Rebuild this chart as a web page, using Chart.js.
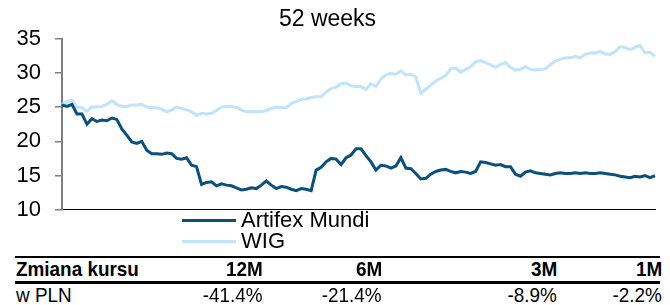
<!DOCTYPE html>
<html>
<head>
<meta charset="utf-8">
<script src="https://cdn.jsdelivr.net/npm/chart.js@4/dist/chart.umd.min.js"></script>
<style>
  html, body { margin: 0; padding: 0; background: #fff; }
  body { width: 670px; height: 305px; position: relative; overflow: hidden; font-family: "Liberation Sans", Arial, sans-serif; color: #000; }
  #wrap { position: absolute; left: 0; top: 0; width: 670px; height: 237px; }
  .leg { position: absolute; left: 182px; height: 22px; font-size: 22px; line-height: 22px; }
  .leg .sw { position: absolute; left: 0; top: 10px; width: 54px; height: 3px; }
  .leg .tx { position: absolute; left: 59px; top: 0; white-space: nowrap; }
  .rule { position: absolute; left: 15px; width: 645px; background: #000; }
  .cell { position: absolute; white-space: nowrap; font-family: "Liberation Sans", Arial, sans-serif; font-size: 21px; line-height: 22px; transform: scaleX(0.9); }
  .l { transform-origin: left center; }
  .r { transform-origin: right center; }
  .b { font-weight: bold; }
</style>
</head>
<body>
<div id="wrap"><canvas id="c" width="670" height="237"></canvas></div>
<div class="leg" style="top:209px"><div class="sw" style="background:#0b4f7c"></div><div class="tx" id="l0"></div></div>
<div class="leg" style="top:230px"><div class="sw" style="background:#bfe4fb"></div><div class="tx" id="l1"></div></div>
<div class="rule" style="top:256px;height:2px"></div>
<div class="rule" style="top:281px;height:3px"></div>
<div id="table"></div>
<script>
const title = "52 weeks";
const seriesNames = ["Artifex Mundi", "WIG"];
const artifex = [25.3,25.1,25.4,24.0,24.0,22.5,23.3,22.9,23.1,23.0,23.4,23.2,21.8,20.9,19.9,19.7,20.0,18.7,18.2,18.2,
  18.1,18.3,18.2,17.5,17.4,17.6,16.5,16.3,13.7,14.0,14.1,13.5,13.8,13.6,13.5,13.2,12.9,13.0,13.2,13.1,
  13.6,14.2,13.6,13.1,13.4,13.3,13.0,12.8,13.1,13.0,12.8,15.8,16.2,17.0,17.5,17.4,16.6,17.6,18.0,18.9,
  18.9,17.9,17.0,15.8,16.5,16.4,16.1,16.4,17.6,16.1,16.0,15.3,14.5,14.6,15.2,15.6,15.8,15.9,15.6,15.4,
  15.6,15.5,15.3,15.6,17.0,16.9,16.7,16.5,16.6,16.3,16.3,15.2,14.9,15.5,15.7,15.4,15.3,15.2,15.1,15.3,
  15.4,15.3,15.3,15.4,15.3,15.4,15.3,15.3,15.4,15.3,15.2,15.1,14.9,14.8,14.7,14.9,14.8,15.0,14.7,15.0];
const wig = [25.4,25.8,26.0,25.0,24.9,24.4,25.0,25.0,25.1,25.4,25.9,25.4,25.1,25.1,25.3,25.3,25.4,25.0,24.9,24.9,
  24.7,24.3,24.6,25.0,24.8,24.6,24.3,23.8,24.1,24.0,24.1,24.5,25.0,25.1,25.1,25.0,24.6,24.3,24.3,24.3,
  24.3,24.5,24.8,25.0,24.9,24.9,25.5,25.8,26.1,26.2,26.4,26.5,26.5,27.2,27.7,27.9,28.4,28.5,28.1,28.0,
  28.0,27.6,28.4,28.0,29.1,29.7,29.9,29.8,30.3,29.7,29.8,29.4,27.0,27.6,28.2,28.8,29.2,29.6,30.6,30.7,
  30.1,30.5,30.9,31.6,31.8,31.5,31.2,30.8,31.2,31.5,30.8,30.4,30.5,30.9,30.5,30.4,30.5,30.6,31.2,31.7,
  32.0,32.2,32.2,32.4,32.2,32.7,32.9,32.9,33.1,32.8,32.7,33.1,33.8,33.7,33.4,33.7,34.0,32.9,33.0,32.4];
const yMin = 10, yMax = 35, yStep = 5;
const tableHeader = ["Zmiana kursu", "12M", "6M", "3M", "1M"];
const tableRow = ["w PLN", "-41.4%", "-21.4%", "-8.9%", "-2.2%"];

const colors = ["#0b4f7c", "#bfe4fb"];
const labels = artifex.map((_, i) => i);

document.getElementById("l0").textContent = seriesNames[0];
document.getElementById("l1").textContent = seriesNames[1];

// table
const colRight = [null, 263, 382, 557, 662];
const tbl = document.getElementById("table");
function addRow(cells, top, bold) {
  cells.forEach((t, i) => {
    const d = document.createElement("div");
    d.className = "cell" + (bold ? " b" : "") + (i === 0 ? " l" : " r");
    d.textContent = t;
    d.style.top = top + "px";
    if (i === 0) { d.style.left = "16px"; }
    else { d.style.right = (670 - colRight[i]) + "px"; }
    tbl.appendChild(d);
  });
}
addRow(tableHeader, 258, true);
addRow(tableRow, 284, false);

new Chart(document.getElementById("c"), {
  type: "line",
  data: {
    labels: labels,
    datasets: [
      { label: seriesNames[0], data: artifex, borderColor: colors[0], borderWidth: 3, pointRadius: 0, tension: 0 },
      { label: seriesNames[1], data: wig, borderColor: colors[1], borderWidth: 3, pointRadius: 0, tension: 0 }
    ]
  },
  options: {
    responsive: false,
    animation: false,
    events: [],
    layout: { padding: { left: 0, right: 15, top: 0, bottom: 3 } },
    plugins: {
      legend: { display: false },
      tooltip: { enabled: false },
      title: {
        display: true, text: title, color: "#000",
        font: { family: "'Liberation Sans', Arial, sans-serif", size: 23, weight: "normal" },
        padding: { top: 6, bottom: 5 }
      }
    },
    scales: {
      x: {
        type: "category",
        offset: false,
        ticks: { display: false },
        grid: { display: false },
        border: { display: true, color: "#000", width: 1 }
      },
      y: {
        min: yMin, max: yMax,
        ticks: { stepSize: yStep, color: "#000", padding: 14,
          font: { family: "'Liberation Sans', Arial, sans-serif", size: 22 } },
        grid: { drawOnChartArea: false, drawTicks: true, tickLength: 7, color: "#808080", lineWidth: 1.5 },
        border: { display: true, color: "#808080", width: 2 },
        afterFit: (s) => { s.width = 62; }
      }
    }
  }
});
</script>
</body>
</html>
